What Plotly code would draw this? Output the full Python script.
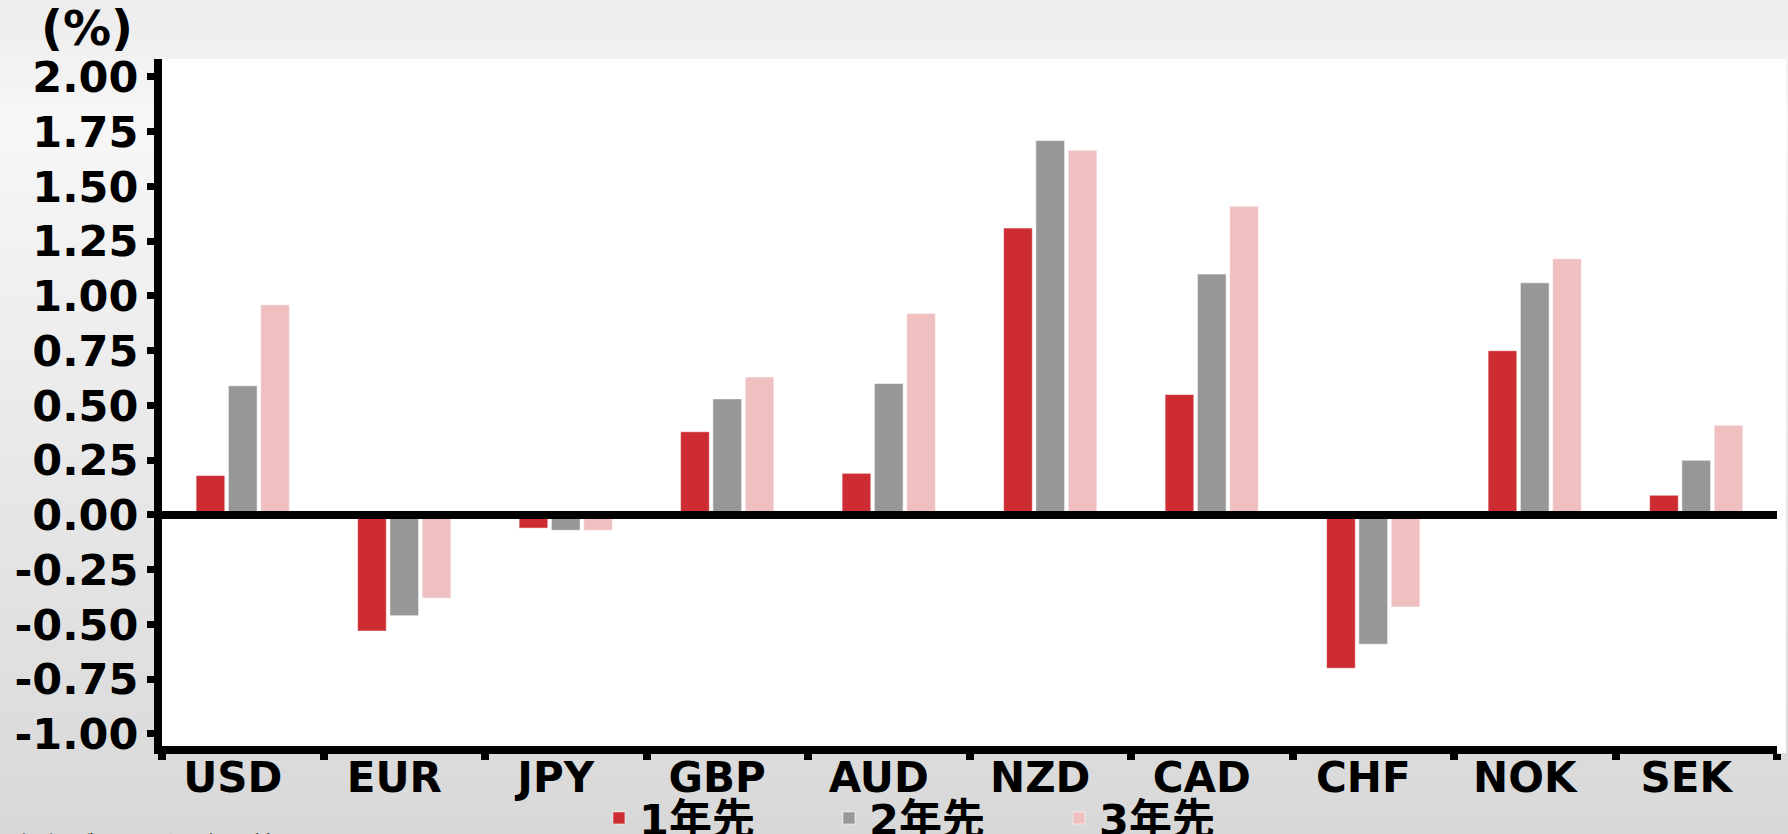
import plotly.graph_objects as go

# ---------------- data ----------------
categories = ["USD", "EUR", "JPY", "GBP", "AUD", "NZD", "CAD", "CHF", "NOK", "SEK"]
series_names = ["1年先", "2年先", "3年先"]
one_year = [0.18, -0.53, -0.06, 0.38, 0.19, 1.31, 0.55, -0.70, 0.75, 0.09]
two_year = [0.59, -0.46, -0.07, 0.53, 0.60, 1.71, 1.10, -0.59, 1.06, 0.25]
three_year = [0.96, -0.38, -0.07, 0.63, 0.92, 1.665, 1.41, -0.42, 1.17, 0.41]
y_tick_values = [-1.0, -0.75, -0.5, -0.25, 0.0, 0.25, 0.5, 0.75, 1.0, 1.25, 1.5, 1.75, 2.0]
y_tick_labels = ["-1.00", "-0.75", "-0.50", "-0.25", "0.00", "0.25", "0.50", "0.75",
                 "1.00", "1.25", "1.50", "1.75", "2.00"]
unit_label = "(%)"
source_label = "出所：ブルームバーグ、野村"

# ---------------- style ----------------
colors = ["#CC2C32", "#979797", "#F0C0C1"]
W, H = 1788, 834
ML, MR, MT, MB = 162, 11, 59, 88
PW, PH = W - ML - MR, H - MT - MB
FONT = "DejaVu Sans, Noto Sans CJK JP, sans-serif"
Y_TICK_SIZE = 43
X_TICK_SIZE = 42


def px_to_paper_x(px):
    return (px - ML) / PW


def px_to_paper_y(py):
    return (H - MB - py) / PH


fig = go.Figure()
for name, vals, col in zip(series_names, [one_year, two_year, three_year], colors):
    fig.add_trace(go.Bar(
        x=categories, y=vals, name=name,
        marker=dict(color=col, line=dict(color="rgba(255,255,255,0.55)", width=1)),
    ))

# background gradient (decorative)
shapes = []
N = 60
for i in range(N):
    y0p = H * i / N
    y1p = H * (i + 1) / N
    mid = (y0p + y1p) / 2
    if mid < 120:
        v = 236 + (247 - 236) * mid / 120
    else:
        v = 247 - (247 - 216) * (mid - 120) / (H - 120)
    v = int(round(v))
    shapes.append(dict(type="rect", xref="paper", yref="paper", layer="below",
                       x0=px_to_paper_x(0), x1=px_to_paper_x(W),
                       y0=px_to_paper_y(y1p + 0.5), y1=px_to_paper_y(y0p),
                       fillcolor=f"rgb({v},{v},{v})", line=dict(width=0)))
# white plot panel
shapes.append(dict(type="rect", xref="paper", yref="paper", layer="below",
                   x0=0, x1=px_to_paper_x(1786), y0=px_to_paper_y(753), y1=1,
                   fillcolor="white", line=dict(width=0)))
# zero line above bars
shapes.append(dict(type="line", xref="paper", yref="y", layer="above",
                   x0=0, x1=1, y0=0, y1=0, line=dict(color="black", width=8)))

fig.update_layout(
    width=W, height=H,
    margin=dict(l=ML, r=MR, t=MT, b=MB, autoexpand=False),
    paper_bgcolor="#EAEAEA",
    plot_bgcolor="white",
    barmode="group", bargap=0.40, bargroupgap=0.11,
    font=dict(family=FONT, size=Y_TICK_SIZE, color="black", weight="bold"),
    shapes=shapes,
    showlegend=True,
    legend=dict(orientation="h", xref="container", yref="container",
                x=0.335, xanchor="left", y=(H - 818) / H, yanchor="middle",
                font=dict(family=FONT, size=Y_TICK_SIZE, color="black", weight="bold"),
                bgcolor="rgba(0,0,0,0)", entrywidth=185, entrywidthmode="pixels",
                traceorder="normal"),
    xaxis=dict(showline=True, linecolor="black", linewidth=8,
               ticks="outside", tickson="boundaries", ticklen=6, tickwidth=8,
               tickcolor="black", showgrid=False, zeroline=False,
               ticklabelstandoff=-12, ticklabelshift=-10,
               tickfont=dict(family=FONT, size=X_TICK_SIZE, color="black", weight="bold")),
    yaxis=dict(range=[-1.055, 2.082], tickvals=y_tick_values, ticktext=y_tick_labels,
               showline=True, linecolor="black", linewidth=8,
               ticks="outside", ticklen=7, tickwidth=7, tickcolor="black",
               showgrid=False, zeroline=False,
               tickfont=dict(family=FONT, size=Y_TICK_SIZE, color="black", weight="bold")),
    annotations=[
        dict(text=unit_label, xref="paper", yref="paper", showarrow=False,
             x=px_to_paper_x(87), y=px_to_paper_y(28), xanchor="center", yanchor="middle",
             font=dict(family=FONT, size=48, color="black", weight="bold")),
        dict(text=source_label, xref="paper", yref="paper", showarrow=False,
             x=px_to_paper_x(12), y=px_to_paper_y(826), xanchor="left", yanchor="top",
             font=dict(family="Noto Sans CJK JP", size=20, color="#333333")),
    ],
)

fig.write_html("out.html", config={"displayModeBar": False},
               post_script="document.body.style.margin='0';")
